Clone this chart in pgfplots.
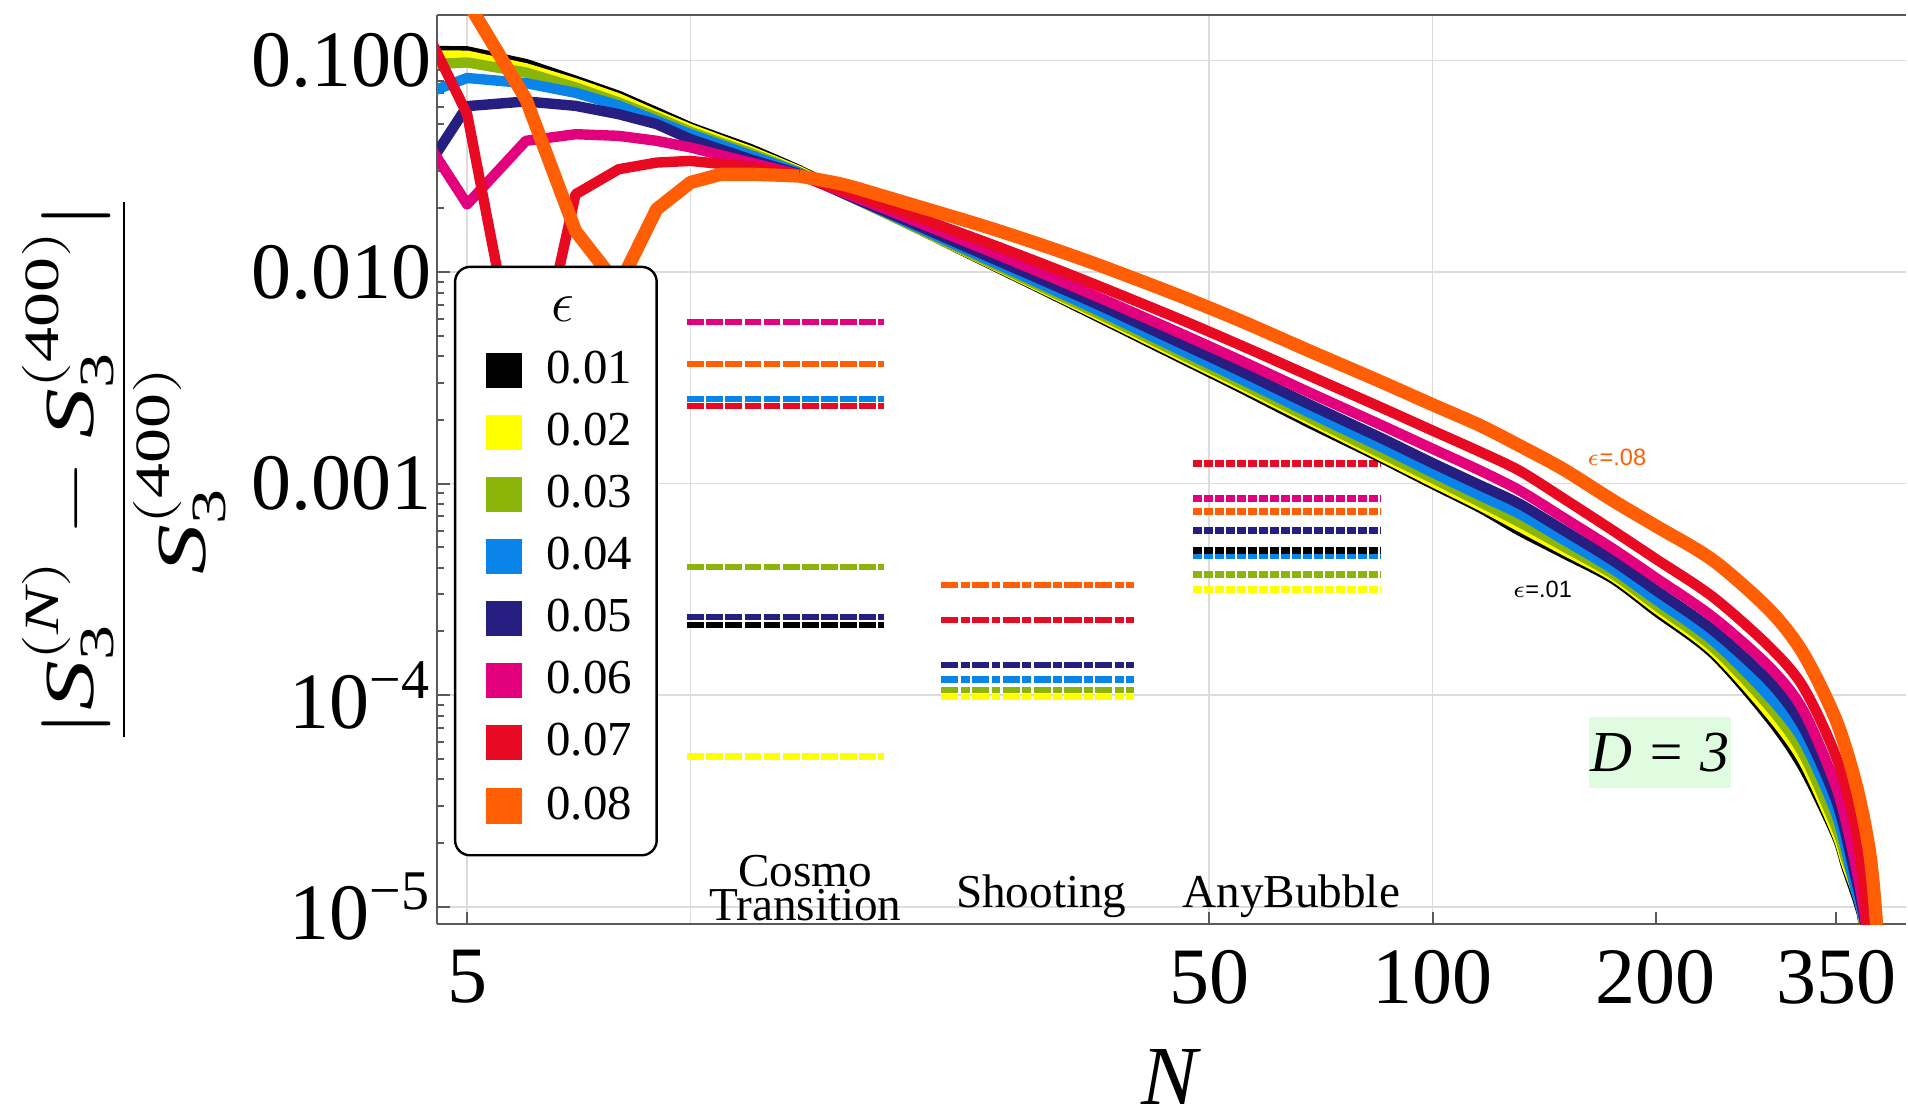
\documentclass[border=0pt]{standalone}
\usepackage{amsmath}
\usepackage{graphicx}
\usepackage{fontspec}
\setmainfont{Liberation Serif}
\newfontfamily\sansf{Liberation Sans}
\usepackage{pgfplots}
\usepackage{pgfplotstable}
\pgfplotsset{compat=1.18}

\definecolor{cK}{HTML}{000000}
\definecolor{cY}{HTML}{FFFF00}
\definecolor{cG}{HTML}{8CB50A}
\definecolor{cB}{HTML}{0A84E8}
\definecolor{cN}{HTML}{261E80}
\definecolor{cM}{HTML}{E2007C}
\definecolor{cR}{HTML}{E80923}
\definecolor{cO}{HTML}{FF5E05}
\definecolor{gridcol}{HTML}{DCDCDC}
\definecolor{axiscol}{HTML}{5A5A5A}
\definecolor{dbox}{HTML}{E0FCE0}

\pgfplotstableread{
N v
4 0.1113
5 0.1103
6 0.0961
7 0.0801
8 0.0680
9 0.0568
10 0.0482
11 0.0427
12 0.0383
13 0.0340
14 0.0303
16 0.0241
18 0.0197
20 0.0164
25 0.01117
30 0.00818
35.6 0.00608
45 0.00404
55 0.00285
68 0.00195
85 0.00133
100 0.000996
116 0.000768
131 0.000600
150 0.000470
175 0.000355
200 0.000250
239 0.000157
285 7.74e-5
316 4.55e-5
350 2.18e-5
361 1.55e-5
375 1.05e-5
381 8.12e-6
384 4e-6
}\tK

\pgfplotstableread{
N v
4 0.1060
5 0.1052
6 0.0917
7 0.0778
8 0.0661
9 0.0551
10 0.0473
11 0.0418
12 0.0374
13 0.0334
14 0.0300
16 0.0239
18 0.0196
20 0.0164
25 0.01125
30 0.00827
35.6 0.00619
45 0.00413
55 0.00292
68 0.00201
85 0.00136
100 0.00102
116 0.000788
131 0.000627
150 0.000487
175 0.000365
200 0.000258
239 0.000162
285 8.15e-5
316 4.90e-5
350 2.24e-5
361 1.60e-5
375 1.10e-5
381.5 8.12e-6
384.5 4e-6
}\tY

\pgfplotstableread{
N v
4 0.0940
5 0.0978
6 0.0877
7 0.0745
8 0.0633
9 0.0538
10 0.0460
11 0.0408
12 0.0367
13 0.0329
14 0.0296
16 0.0237
18 0.0195
20 0.0164
25 0.01133
30 0.00838
35.6 0.00631
45 0.00422
55 0.00299
68 0.00206
85 0.00140
100 0.00106
116 0.000817
131 0.000657
150 0.000506
175 0.000374
200 0.000266
239 0.000168
285 8.76e-5
316 5.27e-5
350 2.37e-5
361 1.68e-5
375 1.15e-5
382 8.12e-6
385 4e-6
}\tG

\pgfplotstableread{
N v
4 0.0615
5 0.0826
6 0.0781
7 0.0703
8 0.0612
9 0.0518
10 0.0448
11 0.0398
12 0.0358
13 0.0324
14 0.0295
16 0.0237
18 0.0197
20 0.0166
25 0.01157
30 0.00862
35.6 0.00654
45 0.00440
55 0.00314
68 0.00218
85 0.00150
100 0.00113
116 0.000879
131 0.000720
150 0.000545
175 0.000395
200 0.000283
239 0.000181
285 9.76e-5
316 6.09e-5
350 2.74e-5
369 1.33e-5
382.5 8.12e-6
386 4e-6
}\tB

\pgfplotstableread{
N v
4 0.0183
5 0.0608
6 0.0640
7 0.0610
8 0.0557
9 0.0500
10 0.0424
11 0.0379
12 0.0342
13 0.0314
14 0.0291
16 0.0237
18 0.0198
20 0.0169
25 0.01197
30 0.00906
35.6 0.00696
45 0.00474
55 0.00341
68 0.00238
85 0.00165
100 0.00125
116 0.000980
131 0.000802
150 0.000603
175 0.000433
200 0.000313
239 0.000202
285 0.000115
316 7.04e-5
350 3.17e-5
369 1.53e-5
383 8.12e-6
387 4e-6
}\tN

\pgfplotstableread{
N v
4 0.0700
5 0.0209
6 0.0417
7 0.0448
8 0.0440
9 0.0417
10 0.0388
11 0.0356
12 0.0330
13 0.0308
14 0.0288
16 0.0239
18 0.0203
20 0.0175
25 0.01274
30 0.00976
35.6 0.00755
45 0.00526
55 0.00383
68 0.00271
85 0.00190
100 0.00146
116 0.00115
131 0.000928
150 0.000691
175 0.000492
200 0.000358
239 0.000233
285 0.000135
316 8.45e-5
350 3.66e-5
369 1.77e-5
384 8.12e-6
388 4e-6
}\tM

\pgfplotstableread{
N v
4 0.273
5 0.0557
6 0.00203
7 0.0233
8 0.0306
9 0.0329
10 0.0335
11 0.0324
12 0.0315
13 0.0301
14 0.0287
16 0.0243
18 0.0210
20 0.0184
25 0.01383
30 0.01084
35.6 0.00855
45 0.00611
55 0.00452
68 0.00325
85 0.00230
100 0.00178
116 0.00141
131 0.00115
150 0.000852
175 0.000600
200 0.000440
239 0.000290
285 0.000168
316 0.000109
350 5.08e-5
373 2.21e-5
385.5 8.12e-6
390 4e-6
}\tR

\pgfplotstableread{
N v
5 0.190
6 0.0656
7 0.0156
8 0.00856
9 0.0198
10 0.0265
11 0.0290
12 0.0290
13 0.0287
14 0.0284
16 0.0260
18 0.0231
20 0.0207
25 0.01637
30 0.01327
35.6 0.01074
45 0.00786
55 0.00590
68 0.00426
85 0.00304
100 0.00236
116 0.00188
131 0.00151
150 0.00117
175 0.000832
200 0.000630
239 0.000433
285 0.000251
316 0.000157
350 7.57e-5
373 3.66e-5
388.5 1.77e-5
396.6 8.12e-6
399 4e-6
}\tO

\pgfplotsset{
  cur/.style={line width=2.6pt, line join=round, mark=none},
  curs/.style={line width=2.6pt, line join=round, mark=none, smooth, tension=0.5, forget plot},
  cosmo/.style={line width=1.56pt, dash pattern=on 4.2pt off 0.57pt, mark=none, forget plot},
  shoot/.style={line width=1.56pt, dash pattern=on 4.3pt off 0.6pt on 2.2pt off 0.6pt, mark=none, forget plot},
  anyb/.style={line width=1.75pt, dash pattern=on 2.15pt off 0.6pt, mark=none, forget plot},
}

\begin{document}
\begin{tikzpicture}
\begin{axis}[
  scale only axis,
  width=367.2pt, height=227.4pt,
  xmode=log, ymode=log,
  xmin=4.556, xmax=434.5,
  ymin=8.25e-6, ymax=0.1643,
  clip mode=individual,
  axis x line*=box, axis y line*=left,
  axis line style={draw=axiscol, line width=0.5pt},
  tick pos=left,
  tick align=inside,
  major tick length=3.2pt, minor tick length=1.8pt,
  tick style={color=axiscol, line width=0.5pt},
  xtick={5,50,100},
  xticklabels={\textrm{5},\textrm{50},\textrm{100}},
  extra x ticks={200,350},
  extra x tick labels={\textrm{200},\textrm{350}},
  extra x tick style={grid=none},
  minor xtick={10},
  minor x tick style={draw=none},
  xmajorgrids=true, xminorgrids=true, ymajorgrids=true,
  major grid style={draw=gridcol, line width=0.4pt},
  minor grid style={draw=gridcol, line width=0.4pt},
  ytick={1e-5,1e-4,1e-3,1e-2,1e-1},
  yticklabels={\textrm{10\textsuperscript{−5}},\textrm{10\textsuperscript{−4}},\textrm{0.001},\textrm{0.010},\textrm{0.100}},
  tick label style={font=\fontsize{20}{24}\selectfont},
  yticklabel style={inner xsep=1.3pt},
  xticklabel style={inner ysep=6.3pt},
  xlabel={\textit{N}},
  xlabel style={at={(axis description cs:0.5,-0.137)}, anchor=north, inner sep=0pt, font=\fontsize{21}{25}\selectfont},
  ylabel={\scalebox{1.42}[1]{$\dfrac{|\mathit{S}_{\mathrm{3}}^{(\mathit{N})}-\mathit{S}_{\mathrm{3}}^{(\mathrm{400})}|}{\mathit{S}_{\mathrm{3}}^{(\mathrm{400})}}$}},
  ylabel style={at={(axis description cs:-0.2133,0.5)}, anchor=center, font=\fontsize{17.6}{21}\selectfont},
  legend image code/.code={\fill[#1, draw=none, sharp corners] (0pt,-4.4pt) rectangle (8.8pt,4.4pt); \path (0pt,7.9pt);},
  legend cell align=left,
  legend style={at={(axis description cs:0.01137,0.7242)}, anchor=north west,
    draw=black, line width=0.6pt, rounded corners=3.75pt, fill=white,
    font=\fontsize{12.2}{14}\selectfont,
    inner xsep=6.2pt, inner ysep=7.5pt,
    row sep=1.5pt, column sep=6.2pt,
    nodes={inner sep=0pt}},
]
% method results (dashed)
\addplot[cM, cosmo] coordinates {(9.9,0.00582) (18.25,0.00582)};
\addplot[cO, cosmo] coordinates {(9.9,0.00366) (18.25,0.00366)};
\addplot[cR, cosmo] coordinates {(9.9,0.002323) (18.25,0.002323)};
\addplot[cB, cosmo] coordinates {(9.9,0.002507) (18.25,0.002507)};
\addplot[cG, cosmo] coordinates {(9.9,0.000405) (18.25,0.000405)};
\addplot[cK, cosmo] coordinates {(9.9,0.000215) (18.25,0.000215)};
\addplot[cN, cosmo] coordinates {(9.9,0.000235) (18.25,0.000235)};
\addplot[cY, cosmo] coordinates {(9.9,0.0000513) (18.25,0.0000513)};

\addplot[cO, shoot] coordinates {(21.76,0.000333) (39.6,0.000333)};
\addplot[cR, shoot] coordinates {(21.76,0.0002265) (39.6,0.0002265)};
\addplot[cN, shoot] coordinates {(21.76,0.000139) (39.6,0.000139)};
\addplot[cB, shoot] coordinates {(21.76,0.0001186) (39.6,0.0001186)};
\addplot[cY, shoot] coordinates {(21.76,0.0000979) (39.6,0.0000979)};
\addplot[cG, shoot] coordinates {(21.76,0.0001056) (39.6,0.0001056)};

\addplot[cR, anyb] coordinates {(47.6,0.001247) (85.2,0.001247)};
\addplot[cM, anyb] coordinates {(47.6,0.000847) (85.2,0.000847)};
\addplot[cO, anyb] coordinates {(47.6,0.000739) (85.2,0.000739)};
\addplot[cN, anyb] coordinates {(47.6,0.000602) (85.2,0.000602)};
\addplot[cB, anyb] coordinates {(47.6,0.000457) (85.2,0.000457)};
\addplot[cK, anyb] coordinates {(47.6,0.000481) (85.2,0.000481)};
\addplot[cG, anyb] coordinates {(47.6,0.000371) (85.2,0.000371)};
\addplot[cY, anyb] coordinates {(47.6,0.000316) (85.2,0.000316)};

% legend title
\addlegendimage{empty legend}
% convergence curves: sharp part (N<=14) and smooth part (N>=14)
\addplot[cK, cur] table[x=N,y=v, skip coords between index={11}{200}] {\tK};
\addplot[cK, curs] table[x=N,y=v, skip coords between index={0}{10}] {\tK};
\addplot[cY, cur] table[x=N,y=v, skip coords between index={11}{200}] {\tY};
\addplot[cY, curs] table[x=N,y=v, skip coords between index={0}{10}] {\tY};
\addplot[cG, cur] table[x=N,y=v, skip coords between index={11}{200}] {\tG};
\addplot[cG, curs] table[x=N,y=v, skip coords between index={0}{10}] {\tG};
\addplot[cB, cur] table[x=N,y=v, skip coords between index={11}{200}] {\tB};
\addplot[cB, curs] table[x=N,y=v, skip coords between index={0}{10}] {\tB};
\addplot[cN, cur] table[x=N,y=v, skip coords between index={11}{200}] {\tN};
\addplot[cN, curs] table[x=N,y=v, skip coords between index={0}{10}] {\tN};
\addplot[cM, cur] table[x=N,y=v, skip coords between index={11}{200}] {\tM};
\addplot[cM, curs] table[x=N,y=v, skip coords between index={0}{10}] {\tM};
\addplot[cR, cur] table[x=N,y=v, skip coords between index={11}{200}] {\tR};
\addplot[cR, curs] table[x=N,y=v, skip coords between index={0}{10}] {\tR};
\addplot[cO, cur, line width=3.3pt] table[x=N,y=v, skip coords between index={10}{200}] {\tO};
\addplot[cO, curs, line width=3.3pt] table[x=N,y=v, skip coords between index={0}{9}] {\tO};
\legend{\hspace*{1.2pt}{\fontsize{14}{14}\selectfont$\epsilon$},0.01,0.02,0.03,0.04,0.05,0.06,0.07,0.08}

% annotations
\node[font=\fontsize{11.8}{14}\selectfont, anchor=base] at (axis cs:14.28,1.242e-5) {Cosmo};
\node[font=\fontsize{11.8}{14}\selectfont, anchor=base] at (axis cs:14.28,8.61e-6) {Transition};
\node[font=\fontsize{11.8}{14}\selectfont, anchor=base] at (axis cs:29.7,9.88e-6) {Shooting};
\node[font=\fontsize{11.8}{14}\selectfont, anchor=base] at (axis cs:64.5,9.88e-6) {AnyBubble};
\node[font=\sansf\fontsize{5.9}{7}\selectfont, text=cO, inner sep=0pt] at (axis cs:177,0.001333) {$\epsilon$=.08};
\node[font=\sansf\fontsize{5.9}{7}\selectfont, text=black, inner sep=0pt] at (axis cs:140.6,0.000315) {$\epsilon$=.01};
\node[fill=dbox, inner xsep=0.3pt, inner ysep=4pt, font=\fontsize{14.5}{17}\selectfont] at (axis cs:202.5,5.38e-5) {\textit{D = 3}};

\coordinate (bl) at (rel axis cs:0,0);
\coordinate (tr) at (rel axis cs:1,1);
\end{axis}
\pgfresetboundingbox
\path[use as bounding box] ([shift={(-109.3pt,-48.2pt)}]bl) rectangle ([shift={(0.5pt,3.7pt)}]tr);
\end{tikzpicture}
\end{document}
